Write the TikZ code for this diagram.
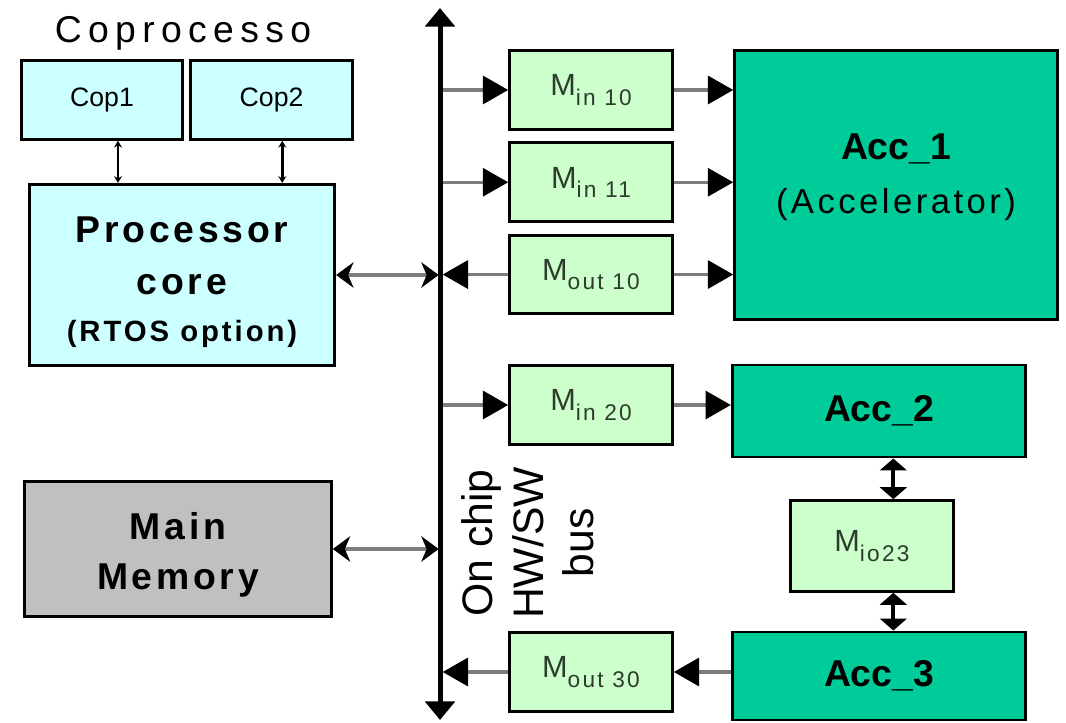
\documentclass[tikz,border=0pt]{standalone}
\usepackage{fontspec}
\setmainfont{Liberation Sans}
\newfontfamily\widefont[LetterSpace=10]{Liberation Sans}
\newfontfamily\titlefont[LetterSpace=17]{Liberation Sans}
\usepackage{xcolor}
\usepackage{tikz}
\usetikzlibrary{arrows.meta, positioning}
\definecolor{procblue}{RGB}{204, 255, 255}
\definecolor{bufgreen}{RGB}{204, 255, 204}
\definecolor{accgreen}{RGB}{0, 204, 153}
\definecolor{memgray}{RGB}{192, 192, 192}
\definecolor{buftext}{RGB}{45, 60, 45}
\definecolor{shaftgray}{RGB}{125, 125, 125}
\newcommand{\Msub}[1]{M\raisebox{-7pt}{\widefont\fontsize{17}{17}\selectfont #1}}

\begin{document}
\begin{tikzpicture}[x=0.75pt, y=-0.75pt, every node/.style={inner sep=0pt},
  blockbox/.style={draw, line width=2.2pt, align=center},
  copbox/.style={blockbox, fill=procblue, minimum width=121pt, minimum height=59pt, font=\fontsize{20}{20}\selectfont},
  procbox/.style={blockbox, fill=procblue, minimum width=229pt, minimum height=136pt, font=\widefont\bfseries\fontsize{28}{39}\selectfont},
  membox/.style={blockbox, fill=memgray, minimum width=230pt, minimum height=101pt, font=\widefont\bfseries\fontsize{28}{37}\selectfont},
  bufbox/.style={blockbox, fill=bufgreen, minimum width=122pt, minimum height=59pt, text=buftext, font=\fontsize{23}{23}\selectfont},
  accbox/.style={blockbox, fill=accgreen, minimum width=220pt, minimum height=69pt, font=\bfseries\fontsize{28}{40}\selectfont},
  busline/.style={line width=3.75pt, {Triangle[length=14pt,width=22pt]}-{Triangle[length=14pt,width=22pt]}},
  flow/.style={draw=shaftgray, line width=2.5pt, -{Triangle[length=19pt,width=21pt,color=black]}},
  duplex/.style={draw=shaftgray, line width=2.5pt, {Stealth[length=13pt,width=19pt,inset=4pt,color=black]}-{Stealth[length=13pt,width=19pt,inset=4pt,color=black]}},
  coplink/.style={line width=2pt, {Stealth[length=5pt,width=6pt]}-{Stealth[length=5pt,width=6pt]}},
  stacklink/.style={line width=3pt, {Triangle[length=9pt,width=20pt]}-{Triangle[length=9pt,width=20pt]}}]
\useasboundingbox (0,0) rectangle (1066,723);

\node[font=\titlefont\fontsize{28}{28}\selectfont] (coptitle) at (183,33) {Coprocesso};
\node[copbox] (cop1) at (102,100) {Cop1};
\node[copbox, right=4pt of cop1] (cop2) {Cop2};
\node[procbox] (proc) at (182,275) {\rule{0pt}{30pt}Processor\\core\\[-4pt]{\fontsize{22}{28}\selectfont (RTOS option)}};
\node[membox] (mem) at (178,549) {\rule{0pt}{29pt}Main\\Memory};

\coordinate (bustop) at (440,8);
\coordinate (busbot) at (440,720);
\node[rotate=90, align=center, font=\fontsize{32}{38}\selectfont] (buslbl) at (528,543) {On chip\\HW/SW\\bus};

\node[bufbox] (min10) at (591,90) {\Msub{in 10}};
\node[bufbox, below=8pt of min10] (min11) {\Msub{in 11}};
\node[bufbox, below=8pt of min11] (mout10) {\Msub{out 10}};
\node[bufbox] (min20) at (591,405) {\Msub{in 20}};
\node[bufbox] (mout30) at (591,672) {\Msub{out 30}};

\node[accbox, minimum width=242pt, minimum height=202pt] (acc1) at (896,185) {Acc\_1\\{\widefont\mdseries\fontsize{26}{34}\selectfont (Accelerator)\rule[-17pt]{0pt}{1pt}}};
\node[accbox] (acc2) at (879,411) {Acc\_2};
\node[bufbox, minimum height=68pt] (mio23) at (872,546) {\Msub{io23}};
\node[accbox, minimum height=66pt] (acc3) at (879,676) {Acc\_3};

\draw[coplink] ([xshift=12pt]cop1.south) -- ([xshift=12pt]cop1.south |- proc.north);
\draw[coplink] ([xshift=8pt]cop2.south) -- ([xshift=8pt]cop2.south |- proc.north);
\draw[duplex] (proc.east) -- ([xshift=-1pt]proc.east -| bustop);
\draw[duplex] (mem.east) -- ([xshift=-1pt]mem.east -| bustop);

\draw[flow] (min10.west -| bustop) -- (min10.west);
\draw[flow] (min11.west -| bustop) -- (min11.west);
\draw[flow] (mout10.west) -- ([xshift=2pt]mout10.west -| bustop);
\draw[flow] (min20.west -| bustop) -- (min20.west);
\draw[flow] (mout30.west) -- ([xshift=2pt]mout30.west -| bustop);

\draw[flow] (min10.east) -- (min10.east -| acc1.west);
\draw[flow] (min11.east) -- (min11.east -| acc1.west);
\draw[flow] (mout10.east) -- (mout10.east -| acc1.west);
\draw[flow] (min20.east) -- (min20.east -| acc2.west);
\draw[flow] (mout30.east -| acc3.west) -- (mout30.east);

\draw[stacklink] ([xshift=16pt]mio23.north) -- ([xshift=16pt]mio23.north |- acc2.south);
\draw[stacklink] ([xshift=16pt]mio23.south) -- ([xshift=16pt]mio23.south |- acc3.north);

\draw[busline] (busbot) -- (bustop);
\end{tikzpicture}
\end{document}
